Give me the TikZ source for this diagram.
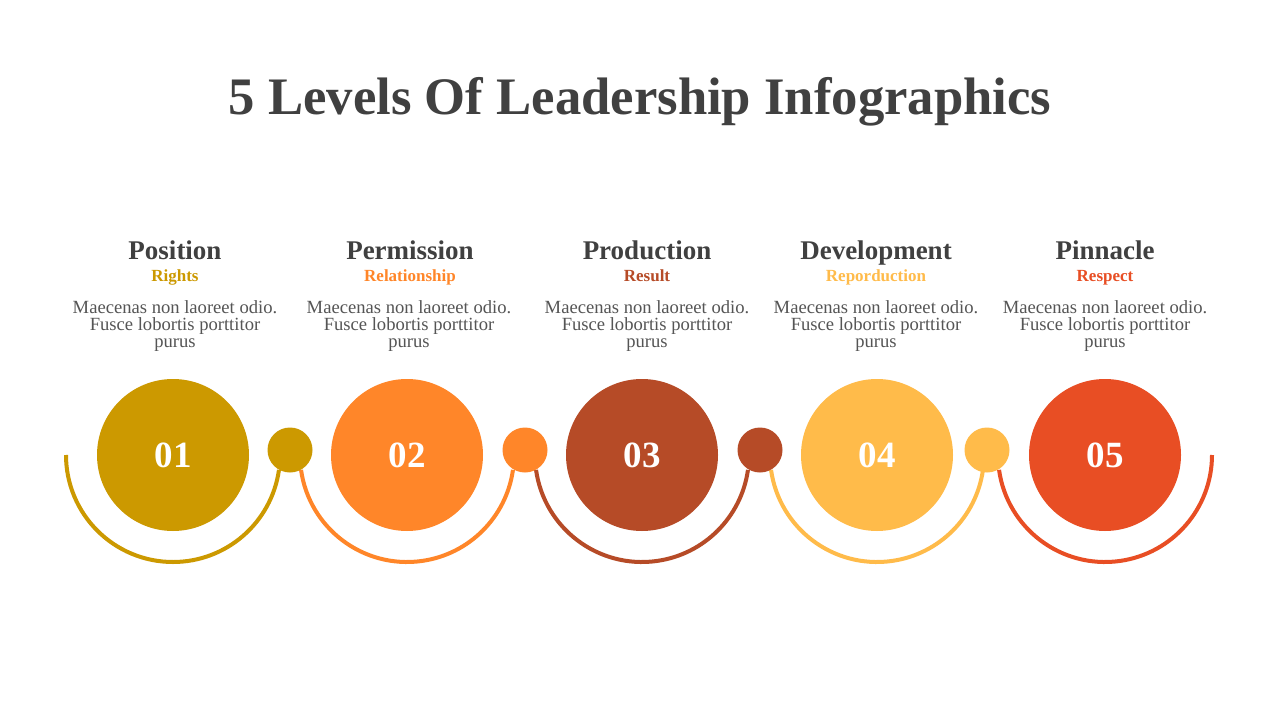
\documentclass[tikz,border=0pt]{standalone}
\usepackage{fontspec}
\setmainfont{Liberation Serif}
\usetikzlibrary{calc}
\definecolor{cA}{HTML}{CC9900}
\definecolor{cB}{HTML}{FF8629}
\definecolor{cC}{HTML}{B64B27}
\definecolor{cD}{HTML}{FFBB4A}
\definecolor{cE}{HTML}{E84E24}
\definecolor{ink}{HTML}{404040}
\definecolor{bodyink}{HTML}{555555}
\tikzset{
  bigc/.style={circle, minimum size=152pt, inner sep=0pt, text=white, font=\fontsize{37}{40}\selectfont\bfseries},
  smallc/.style={circle, minimum size=45pt, inner sep=0pt},
  arcline/.style={line width=4pt},
  head/.style={anchor=base, text=ink, font=\fontsize{27}{30}\selectfont\bfseries},
  sub/.style={anchor=base, font=\fontsize{17}{20}\selectfont\bfseries},
  bodytext/.style={anchor=base, align=center, text=bodyink, font=\fontsize{18.6}{17}\selectfont},
}
\begin{document}
\begin{tikzpicture}[x=1pt,y=-1pt]
\useasboundingbox (0,0) rectangle (1280,720);
\fill[white] (0,0) rectangle (1280,720);
\node[anchor=base, text=ink, font=\fontsize{52.7}{56}\selectfont\bfseries] (title) at (640,114) {5 Levels Of Leadership Infographics};

% arcs
\draw[arcline, cA] (66,455) arc[start angle=180, end angle=8, radius=107];
\draw[arcline, cB] ($(407,455)+(172:107)$) arc[start angle=172, end angle=8, radius=107];
\draw[arcline, cC] ($(642,455)+(172:107)$) arc[start angle=172, end angle=8, radius=107];
\draw[arcline, cD] ($(877,455)+(172:107)$) arc[start angle=172, end angle=8, radius=107];
\draw[arcline, cE] ($(1105,455)+(172:107)$) arc[start angle=172, end angle=0, radius=107];

% small circles
\node[smallc, fill=cA] (s1) at (290,450) {};
\node[smallc, fill=cB] (s2) at (525,450) {};
\node[smallc, fill=cC] (s3) at (760,450) {};
\node[smallc, fill=cD] (s4) at (987,450) {};

% big circles
\node[bigc, fill=cA] (n1) at (173,455) {01};
\node[bigc, fill=cB] (n2) at (407,455) {02};
\node[bigc, fill=cC] (n3) at (642,455) {03};
\node[bigc, fill=cD] (n4) at (877,455) {04};
\node[bigc, fill=cE] (n5) at (1105,455) {05};

% texts
\node[head] (h1) at (175,259) {Position};
\node[head] (h2) at (410,259) {Permission};
\node[head] (h3) at (647,259) {Production};
\node[head] (h4) at (876,259) {Development};
\node[head] (h5) at (1105,259) {Pinnacle};

\node[sub, text=cA] (u1) at (175,281) {Rights};
\node[sub, text=cB] (u2) at (410,281) {Relationship};
\node[sub, text=cC] (u3) at (647,281) {Result};
\node[sub, text=cD] (u4) at (876,281) {Reporduction};
\node[sub, text=cE] (u5) at (1105,281) {Respect};

\foreach \x/\n in {175/1, 409/2, 647/3, 876/4, 1105/5}{
  \node[bodytext] (b\n) at (\x,347) {Maecenas non laoreet odio.\\Fusce lobortis porttitor\\purus};
}
\end{tikzpicture}
\end{document}
